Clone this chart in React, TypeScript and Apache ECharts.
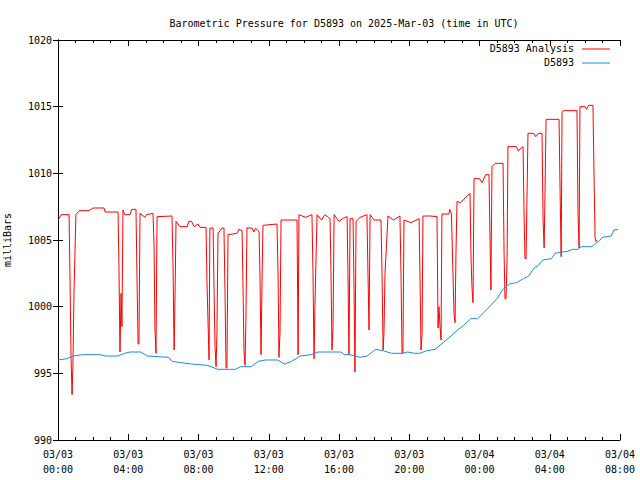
import React, { useEffect, useRef } from "react";
import * as echarts from "echarts";

const titleText = "Barometric Pressure for D5893 on 2025-Mar-03 (time in UTC)";
const yAxisName = "milliBars";
const seriesNames = ["D5893 Analysis", "D5893"];
const seriesColors = ["#ff0000", "#1a88ee"];
const xTickLabels = [
  "03/03\n00:00", "03/03\n04:00", "03/03\n08:00", "03/03\n12:00", "03/03\n16:00",
  "03/03\n20:00", "03/04\n00:00", "03/04\n04:00", "03/04\n08:00",
];

// [hours since 2025-03-03 00:00 UTC, millibars]
const analysisData: number[][] = [
  [0.0, 1006.5], [0.06, 1006.6], [0.17, 1006.9], [0.63, 1006.9], [0.68, 1002.5], [0.74, 996.4],
  [0.8, 993.4], [0.85, 995.6], [0.91, 1001.0], [1.02, 1006.9], [1.2, 1007.2], [1.77, 1007.2],
  [1.99, 1007.4], [2.62, 1007.4], [2.68, 1007.1], [3.42, 1007.1], [3.47, 1003.0], [3.53, 996.6],
  [3.59, 1001.0], [3.64, 998.5], [3.7, 1007.25], [3.8, 1006.9], [4.1, 1006.9], [4.2, 1007.3],
  [4.44, 1007.3], [4.5, 1002.0], [4.56, 997.2], [4.61, 997.2], [4.67, 1007.0], [4.95, 1006.7],
  [5.05, 1006.9], [5.41, 1007.0], [5.47, 1004.5], [5.52, 998.4], [5.58, 996.5], [5.64, 1006.75],
  [6.49, 1006.8], [6.55, 1003.0], [6.61, 996.75], [6.66, 1000.5], [6.72, 1006.4], [6.95, 1006.0],
  [7.35, 1006.0], [7.45, 1006.4], [7.6, 1006.4], [7.75, 1006.0], [7.97, 1006.2], [8.09, 1005.95],
  [8.43, 1005.95], [8.48, 1002.0], [8.54, 999.0], [8.6, 996.0], [8.65, 1005.9], [8.83, 1005.9],
  [8.89, 1001.0], [8.94, 997.0], [9.0, 995.5], [9.05, 998.0], [9.11, 1005.5], [9.34, 1005.9],
  [9.45, 1005.9], [9.51, 1001.0], [9.57, 995.4], [9.62, 995.4], [9.68, 1005.4], [10.2, 1005.5],
  [10.3, 1005.8], [10.48, 1005.7], [10.53, 1002.0], [10.59, 996.7], [10.65, 995.6], [10.7, 999.0],
  [10.76, 1005.9], [11.05, 1005.9], [11.15, 1005.6], [11.25, 1005.9], [11.45, 1005.6], [11.5, 1002.3],
  [11.56, 996.4], [11.62, 1002.0], [11.67, 1006.1], [12.47, 1006.2], [12.53, 1002.5], [12.58, 996.2],
  [12.64, 998.0], [12.7, 1006.5], [13.61, 1006.5], [13.67, 996.4], [13.72, 1006.9], [14.1, 1006.7],
  [14.46, 1006.9], [14.52, 1002.5], [14.58, 996.1], [14.63, 1000.0], [14.75, 1006.9], [15.0, 1006.5],
  [15.2, 1006.9], [15.49, 1006.6], [15.54, 1003.0], [15.6, 996.75], [15.66, 998.5], [15.72, 1006.9],
  [16.0, 1006.4], [16.2, 1006.6], [16.46, 1006.75], [16.51, 1002.5], [16.57, 996.4], [16.63, 1006.6],
  [16.8, 1006.6], [16.85, 1002.0], [16.91, 995.1], [16.97, 1006.4], [17.2, 1006.7], [17.59, 1006.9],
  [17.65, 1002.5], [17.71, 998.25], [17.77, 1006.9], [18.0, 1006.5], [18.39, 1006.5], [18.45, 1002.5],
  [18.51, 996.75], [18.56, 998.0], [18.62, 1002.5], [18.79, 1006.8], [19.1, 1006.5], [19.47, 1006.8],
  [19.53, 1002.5], [19.59, 996.5], [19.64, 996.5], [19.7, 1006.5], [20.1, 1006.3], [20.56, 1006.6],
  [20.61, 1002.5], [20.67, 996.75], [20.73, 998.0], [20.78, 1006.8], [21.2, 1006.8], [21.58, 1006.75],
  [21.64, 998.4], [21.69, 1000.0], [21.75, 998.6], [21.81, 997.5], [21.86, 1006.95], [22.26, 1006.95],
  [22.3, 1007.3], [22.4, 1007.0], [22.49, 1002.5], [22.55, 999.5], [22.61, 998.8], [22.66, 1004.0],
  [22.72, 1007.9], [22.9, 1007.8], [23.1, 1008.05], [23.46, 1008.5], [23.52, 1003.5], [23.57, 1001.5],
  [23.63, 1000.3], [23.69, 1009.6], [24.0, 1009.6], [24.15, 1009.3], [24.35, 1009.9], [24.54, 1009.9],
  [24.6, 1005.0], [24.65, 1001.25], [24.71, 1010.5], [24.9, 1010.75], [25.34, 1010.75], [25.4, 1004.0],
  [25.45, 1000.6], [25.51, 1000.6], [25.57, 1003.5], [25.62, 1012.0], [26.1, 1012.0], [26.2, 1011.7],
  [26.48, 1012.0], [26.53, 1007.5], [26.59, 1003.6], [26.65, 1003.6], [26.76, 1013.0], [27.1, 1013.0],
  [27.2, 1012.75], [27.35, 1013.0], [27.56, 1013.0], [27.62, 1006.5], [27.68, 1004.4], [27.73, 1008.5],
  [27.79, 1014.05], [28.53, 1014.05], [28.59, 1008.5], [28.65, 1003.75], [28.7, 1014.6], [28.76, 1014.7],
  [29.55, 1014.7], [29.61, 1007.0], [29.67, 1004.4], [29.72, 1015.0], [30.0, 1015.0], [30.1, 1014.8],
  [30.2, 1015.1], [30.46, 1015.1], [30.52, 1010.0], [30.58, 1005.2], [30.63, 1004.9], [30.69, 1005.0],
];

const observedData: number[][] = [
  [0.0, 996.0], [0.5, 996.1], [0.85, 996.3], [1.4, 996.4], [2.4, 996.4], [2.7, 996.3], [3.4, 996.3],
  [3.8, 996.5], [4.1, 996.6], [4.7, 996.6], [5.1, 996.3], [6.3, 996.2], [6.5, 995.9], [7.0, 995.8],
  [7.6, 995.7], [8.5, 995.6], [9.1, 995.3], [10.1, 995.3], [10.4, 995.5], [11.0, 995.5], [11.4, 995.9],
  [11.8, 996.0], [12.5, 996.0], [12.9, 995.7], [13.3, 995.9], [13.8, 996.3], [14.4, 996.4], [14.8, 996.6],
  [15.5, 996.6], [16.1, 996.6], [16.3, 996.4], [16.6, 996.4], [17.2, 996.2], [17.6, 996.3], [18.1, 996.8],
  [18.5, 996.7], [19.0, 996.5], [19.6, 996.5], [19.9, 996.6], [20.3, 996.5], [20.6, 996.5], [21.0, 996.7],
  [21.47, 996.8], [21.75, 997.1], [22.2, 997.6], [22.8, 998.3], [23.1, 998.6], [23.5, 999.1], [23.9, 999.1],
  [24.5, 999.9], [25.0, 1000.6], [25.3, 1001.25], [25.7, 1001.7], [26.1, 1001.8], [26.5, 1002.1],
  [26.8, 1002.3], [27.1, 1002.9], [27.35, 1003.1], [27.6, 1003.5], [28.1, 1003.6], [28.3, 1004.0],
  [28.7, 1004.1], [29.0, 1004.15], [29.3, 1004.3], [29.6, 1004.3], [29.8, 1004.5], [30.4, 1004.5],
  [30.6, 1004.75], [30.8, 1004.9], [31.0, 1005.2], [31.5, 1005.3], [31.65, 1005.75], [31.9, 1005.8],
];

const FONT = "DejaVu Sans Mono";

export default function App() {
  const ref = useRef<HTMLDivElement>(null);
  useEffect(() => {
    if (!ref.current) return;
    const chart = echarts.init(ref.current, null, { renderer: "svg" });
    const tickCommon = {
      axisLine: { show: true, lineStyle: { color: "#000", width: 1 } },
      splitLine: { show: false },
    };
    chart.setOption({
      animation: false,
      backgroundColor: "#fff",
      title: {
        text: titleText,
        left: 339,
        top: 13,
        textAlign: "center",
        textStyle: { fontFamily: FONT, fontSize: 10, fontWeight: "normal", color: "#000" },
      },
      grid: { left: 58, right: 20, top: 40, bottom: 40, containLabel: false, outerBoundsMode: "none" },
      xAxis: [
        {
          type: "value",
          min: 0,
          max: 32,
          interval: 4,
          position: "bottom",
          ...tickCommon,
          axisTick: { show: true, inside: true, length: 6, lineStyle: { color: "#000" } },
          minorTick: { show: true, splitNumber: 4, length: 3, lineStyle: { color: "#000" } },
          axisLabel: {
            fontFamily: FONT,
            fontSize: 10,
            color: "#000",
            lineHeight: 15,
            margin: 7,
            formatter: (v: number) => xTickLabels[Math.round(v / 4)] ?? "",
          },
        },
        {
          type: "value",
          min: 0,
          max: 32,
          interval: 4,
          position: "top",
          ...tickCommon,
          axisTick: { show: true, inside: true, length: 6, lineStyle: { color: "#000" } },
          minorTick: { show: true, splitNumber: 4, length: 3, lineStyle: { color: "#000" } },
          axisLabel: { show: false },
        },
      ],
      yAxis: [
        {
          type: "value",
          min: 990,
          max: 1020,
          interval: 5,
          position: "left",
          name: yAxisName,
          nameLocation: "middle",
          nameRotate: 90,
          nameGap: 46,
          nameTextStyle: { fontFamily: FONT, fontSize: 10, color: "#000" },
          ...tickCommon,
          axisTick: { show: true, inside: true, length: 5, lineStyle: { color: "#000" } },
          axisLabel: {
            fontFamily: FONT,
            fontSize: 10,
            color: "#000",
            margin: 6,
            formatter: (v: number) => String(v),
          },
        },
        {
          type: "value",
          min: 990,
          max: 1020,
          interval: 5,
          position: "right",
          ...tickCommon,
          axisTick: { show: true, inside: true, length: 5, lineStyle: { color: "#000" } },
          axisLabel: { show: false },
        },
      ],
      series: [
        {
          name: seriesNames[0],
          type: "line",
          data: analysisData,
          xAxisIndex: 0,
          yAxisIndex: 0,
          showSymbol: false,
          lineStyle: { color: seriesColors[0], width: 1 },
          itemStyle: { color: seriesColors[0] },
        },
        {
          name: seriesNames[1],
          type: "line",
          data: observedData,
          xAxisIndex: 0,
          yAxisIndex: 0,
          showSymbol: false,
          lineStyle: { color: seriesColors[1], width: 1 },
          itemStyle: { color: seriesColors[1] },
        },
      ],
      graphic: [
        {
          type: "text",
          right: 66,
          top: 43,
          style: { text: seriesNames[0], font: `10px "${FONT}"`, fill: "#000" },
        },
        {
          type: "line",
          shape: { x1: 582, y1: 49, x2: 610, y2: 49 },
          style: { stroke: seriesColors[0], lineWidth: 1 },
        },
        {
          type: "text",
          right: 66,
          top: 57,
          style: { text: seriesNames[1], font: `10px "${FONT}"`, fill: "#000" },
        },
        {
          type: "line",
          shape: { x1: 582, y1: 63, x2: 610, y2: 63 },
          style: { stroke: seriesColors[1], lineWidth: 1 },
        },
      ],
    });
    return () => chart.dispose();
  }, []);
  return (
    <div
      ref={ref}
      style={{ position: "fixed", left: 0, top: 0, width: 640, height: 480, background: "#fff" }}
    />
  );
}
